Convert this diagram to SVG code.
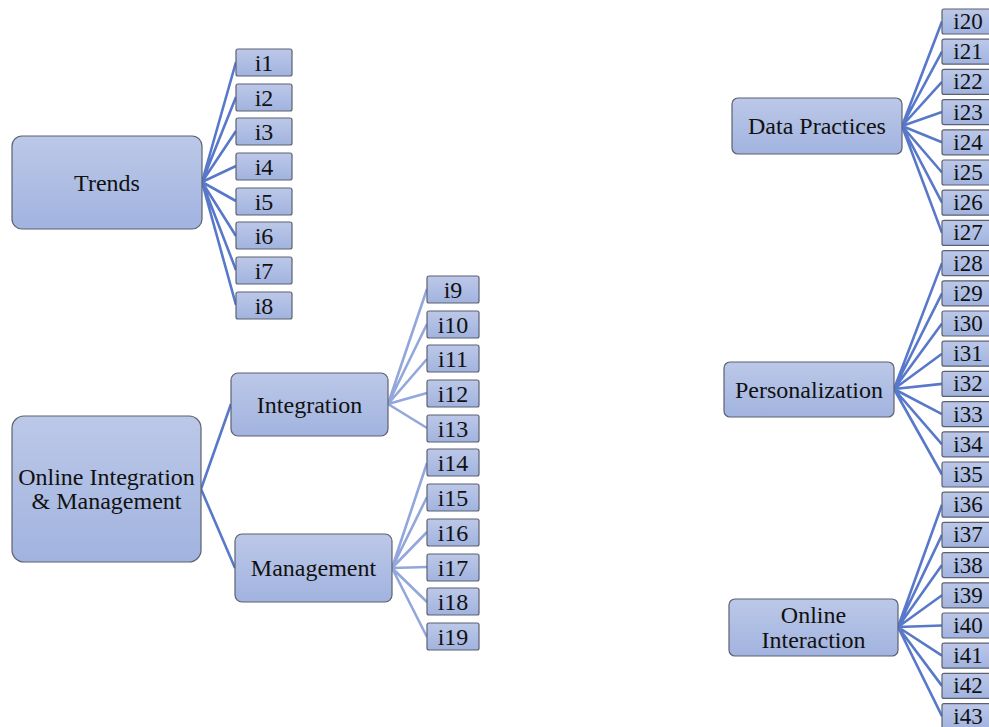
<svg xmlns="http://www.w3.org/2000/svg" width="989" height="727" viewBox="0 0 989 727">
<defs>
<linearGradient id="g" x1="0" y1="0" x2="0" y2="1">
<stop offset="0" stop-color="#bcc8e8"/>
<stop offset="1" stop-color="#a1b3df"/>
</linearGradient>
</defs>
<style>
.n{fill:url(#g);stroke:#5c6170;stroke-width:1.2}
.t{font-family:"Liberation Serif","Times New Roman",serif;font-size:24px;fill:#111;text-anchor:middle;dominant-baseline:central}
.s{font-size:24px}
.r{font-size:23px}
.c{stroke:#5878c9;stroke-width:2.6;fill:none}
.l{stroke:#93a7dc;stroke-width:2.6;fill:none}
</style>
<rect width="989" height="727" fill="#fff"/>
<g id="connectors">
<path class="c" d="M202 182L236 62M202 182L236 97M202 182L236 131M202 182L236 166M202 182L236 201M202 182L236 236M202 182L236 270M202 182L236 305"/>
<path class="c" d="M201 489L231 404M201 489L235 568"/>
<path class="l" d="M388 404L427 289M388 404L427 324M388 404L427 359M388 404L427 393M388 404L427 428"/>
<path class="l" d="M392 568L427 463M392 568L427 497M392 568L427 532M392 568L427 567M392 568L427 602M392 568L427 637"/>
<path class="c" d="M902 126L942 21.5M902 126L942 51.7M902 126L942 81.9M902 126L942 112.1M902 126L942 142.3M902 126L942 172.5M902 126L942 202.7M902 126L942 232.9"/>
<path class="c" d="M894 389L942 263.1M894 389L942 293.3M894 389L942 323.5M894 389L942 353.7M894 389L942 383.9M894 389L942 414.1M894 389L942 444.3M894 389L942 474.5"/>
<path class="c" d="M898 627L942 504.7M898 627L942 534.9M898 627L942 565.1M898 627L942 595.3M898 627L942 625.5M898 627L942 655.7M898 627L942 685.9M898 627L942 716.1"/>
</g>
<g id="trends"><rect class="n" x="12" y="136" width="190" height="93" rx="10"/><text class="t" x="107" y="182.5">Trends</text></g>
<g id="oim"><rect class="n" x="12" y="416" width="189" height="146" rx="12"/><text class="t" x="106.5" y="477">Online Integration</text><text class="t" x="106.5" y="501">&amp; Management</text></g>
<g id="integration"><rect class="n" x="231" y="373" width="157" height="63" rx="7"/><text class="t" x="309.5" y="404.5">Integration</text></g>
<g id="management"><rect class="n" x="235" y="534" width="157" height="68" rx="7"/><text class="t" x="313.5" y="568">Management</text></g>
<g id="datapractices"><rect class="n" x="732" y="98" width="170" height="56" rx="6"/><text class="t" x="817" y="126">Data Practices</text></g>
<g id="personalization"><rect class="n" x="724" y="362" width="170" height="55" rx="6"/><text class="t" x="809" y="389.5">Personalization</text></g>
<g id="onlineinteraction"><rect class="n" x="729" y="599" width="169" height="57" rx="6"/><text class="t" x="813.5" y="615">Online</text><text class="t" x="813.5" y="640">Interaction</text></g>
<g id="i1"><rect class="n" x="236" y="49" width="56" height="27" rx="2"/><text class="t s" x="264" y="62.5">i1</text></g>
<g id="i2"><rect class="n" x="236" y="84" width="56" height="27" rx="2"/><text class="t s" x="264" y="97.5">i2</text></g>
<g id="i3"><rect class="n" x="236" y="118" width="56" height="27" rx="2"/><text class="t s" x="264" y="131.5">i3</text></g>
<g id="i4"><rect class="n" x="236" y="153" width="56" height="27" rx="2"/><text class="t s" x="264" y="166.5">i4</text></g>
<g id="i5"><rect class="n" x="236" y="188" width="56" height="27" rx="2"/><text class="t s" x="264" y="201.5">i5</text></g>
<g id="i6"><rect class="n" x="236" y="222" width="56" height="27" rx="2"/><text class="t s" x="264" y="235.5">i6</text></g>
<g id="i7"><rect class="n" x="236" y="257" width="56" height="27" rx="2"/><text class="t s" x="264" y="270.5">i7</text></g>
<g id="i8"><rect class="n" x="236" y="292" width="56" height="27" rx="2"/><text class="t s" x="264" y="305.5">i8</text></g>
<g id="i9"><rect class="n" x="427" y="276" width="52" height="27" rx="2"/><text class="t s" x="453" y="289.5">i9</text></g>
<g id="i10"><rect class="n" x="427" y="311" width="52" height="27" rx="2"/><text class="t s" x="453" y="324.5">i10</text></g>
<g id="i11"><rect class="n" x="427" y="345" width="52" height="27" rx="2"/><text class="t s" x="453" y="358.5">i11</text></g>
<g id="i12"><rect class="n" x="427" y="380" width="52" height="27" rx="2"/><text class="t s" x="453" y="393.5">i12</text></g>
<g id="i13"><rect class="n" x="427" y="415" width="52" height="27" rx="2"/><text class="t s" x="453" y="428.5">i13</text></g>
<g id="i14"><rect class="n" x="427" y="449" width="52" height="27" rx="2"/><text class="t s" x="453" y="462.5">i14</text></g>
<g id="i15"><rect class="n" x="427" y="484" width="52" height="27" rx="2"/><text class="t s" x="453" y="497.5">i15</text></g>
<g id="i16"><rect class="n" x="427" y="519" width="52" height="27" rx="2"/><text class="t s" x="453" y="532.5">i16</text></g>
<g id="i17"><rect class="n" x="427" y="554" width="52" height="27" rx="2"/><text class="t s" x="453" y="567.5">i17</text></g>
<g id="i18"><rect class="n" x="427" y="588" width="52" height="27" rx="2"/><text class="t s" x="453" y="601.5">i18</text></g>
<g id="i19"><rect class="n" x="427" y="623" width="52" height="27" rx="2"/><text class="t s" x="453" y="636.5">i19</text></g>
<g id="i20"><rect class="n" x="942" y="9" width="56" height="25" rx="2"/><text class="t r" x="968" y="21.5">i20</text></g>
<g id="i21"><rect class="n" x="942" y="39.2" width="56" height="25" rx="2"/><text class="t r" x="968" y="51.7">i21</text></g>
<g id="i22"><rect class="n" x="942" y="69.4" width="56" height="25" rx="2"/><text class="t r" x="968" y="81.9">i22</text></g>
<g id="i23"><rect class="n" x="942" y="99.6" width="56" height="25" rx="2"/><text class="t r" x="968" y="112.1">i23</text></g>
<g id="i24"><rect class="n" x="942" y="129.8" width="56" height="25" rx="2"/><text class="t r" x="968" y="142.3">i24</text></g>
<g id="i25"><rect class="n" x="942" y="160" width="56" height="25" rx="2"/><text class="t r" x="968" y="172.5">i25</text></g>
<g id="i26"><rect class="n" x="942" y="190.2" width="56" height="25" rx="2"/><text class="t r" x="968" y="202.7">i26</text></g>
<g id="i27"><rect class="n" x="942" y="220.4" width="56" height="25" rx="2"/><text class="t r" x="968" y="232.9">i27</text></g>
<g id="i28"><rect class="n" x="942" y="250.6" width="56" height="25" rx="2"/><text class="t r" x="968" y="263.1">i28</text></g>
<g id="i29"><rect class="n" x="942" y="280.8" width="56" height="25" rx="2"/><text class="t r" x="968" y="293.3">i29</text></g>
<g id="i30"><rect class="n" x="942" y="311" width="56" height="25" rx="2"/><text class="t r" x="968" y="323.5">i30</text></g>
<g id="i31"><rect class="n" x="942" y="341.2" width="56" height="25" rx="2"/><text class="t r" x="968" y="353.7">i31</text></g>
<g id="i32"><rect class="n" x="942" y="371.4" width="56" height="25" rx="2"/><text class="t r" x="968" y="383.9">i32</text></g>
<g id="i33"><rect class="n" x="942" y="401.6" width="56" height="25" rx="2"/><text class="t r" x="968" y="414.1">i33</text></g>
<g id="i34"><rect class="n" x="942" y="431.8" width="56" height="25" rx="2"/><text class="t r" x="968" y="444.3">i34</text></g>
<g id="i35"><rect class="n" x="942" y="462" width="56" height="25" rx="2"/><text class="t r" x="968" y="474.5">i35</text></g>
<g id="i36"><rect class="n" x="942" y="492.2" width="56" height="25" rx="2"/><text class="t r" x="968" y="504.7">i36</text></g>
<g id="i37"><rect class="n" x="942" y="522.4" width="56" height="25" rx="2"/><text class="t r" x="968" y="534.9">i37</text></g>
<g id="i38"><rect class="n" x="942" y="552.6" width="56" height="25" rx="2"/><text class="t r" x="968" y="565.1">i38</text></g>
<g id="i39"><rect class="n" x="942" y="582.8" width="56" height="25" rx="2"/><text class="t r" x="968" y="595.3">i39</text></g>
<g id="i40"><rect class="n" x="942" y="613" width="56" height="25" rx="2"/><text class="t r" x="968" y="625.5">i40</text></g>
<g id="i41"><rect class="n" x="942" y="643.2" width="56" height="25" rx="2"/><text class="t r" x="968" y="655.7">i41</text></g>
<g id="i42"><rect class="n" x="942" y="673.4" width="56" height="25" rx="2"/><text class="t r" x="968" y="685.9">i42</text></g>
<g id="i43"><rect class="n" x="942" y="703.6" width="56" height="25" rx="2"/><text class="t r" x="968" y="716.1">i43</text></g>
</svg>
